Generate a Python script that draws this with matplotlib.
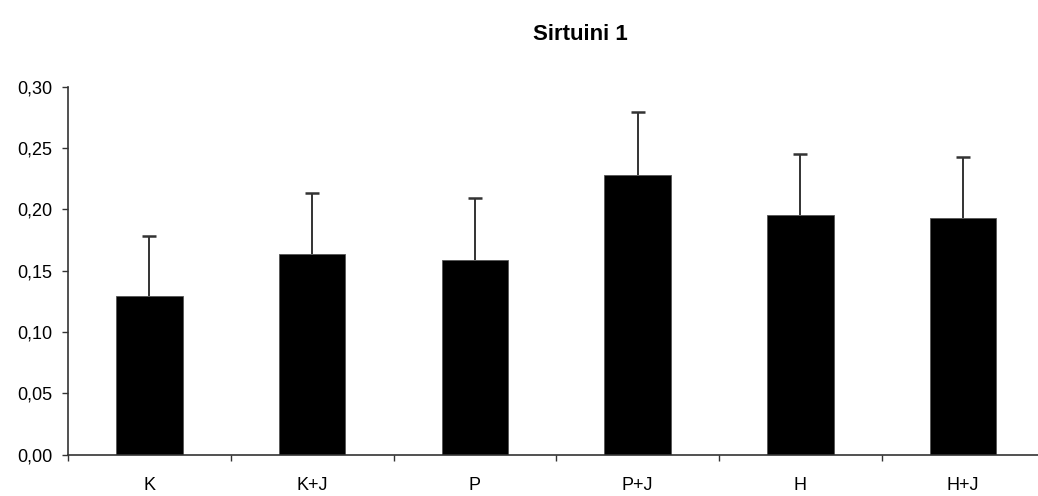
import numpy as np
import matplotlib.pyplot as plt
from matplotlib.ticker import FixedLocator, FuncFormatter

plt.rcParams['font.family'] = ['Liberation Sans', 'DejaVu Sans']

# data
groups = ['K', 'K+J', 'P', 'P+J', 'H', 'H+J']
means = [0.129, 0.164, 0.159, 0.228, 0.195, 0.193]
errors = [0.049, 0.049, 0.050, 0.051, 0.050, 0.050]
yticks = [0.00, 0.05, 0.10, 0.15, 0.20, 0.25, 0.30]

fig = plt.figure(figsize=(10.38, 4.96), dpi=100)
ax = fig.add_axes([68/1038, 41.3/496, 976.5/1038, 368/496])

x = np.arange(len(groups))
ax.bar(x, means, width=0.41, color='black', edgecolor='#555555', linewidth=0.6,
       zorder=2)
# upper-only error bars with a cap at the top
tops = np.array(means) + np.array(errors)
ax.vlines(x, means, tops, color='#333333', linewidth=1.4, zorder=3)
ax.plot(x, tops, ls='none', marker='_', markersize=10, markeredgewidth=1.8,
        color='#333333', zorder=3)

ax.set_xlim(-0.5, len(groups) - 0.5)
ax.set_ylim(0, 0.30)

# category boundaries get the tick marks, labels sit in between
ax.xaxis.set_major_locator(FixedLocator(np.arange(-0.5, len(groups), 1.0)))
ax.xaxis.set_major_formatter(FuncFormatter(lambda v, p: ''))
ax.xaxis.set_minor_locator(FixedLocator(x))
ax.set_xticklabels(groups, minor=True)
ax.tick_params(axis='x', which='major', length=4.5, width=1, color='#333333',
               direction='out')
ax.tick_params(axis='x', which='minor', length=0, pad=16, labelsize=13)

ax.set_yticks(yticks)
ax.set_yticklabels(['{:.2f}'.format(v).replace('.', ',') for v in yticks])
ax.tick_params(axis='y', length=4.5, width=1, color='#333333', pad=7,
               labelsize=13)

for s in ['top', 'right']:
    ax.spines[s].set_visible(False)
for s in ['left', 'bottom']:
    ax.spines[s].set_color('#333333')
    ax.spines[s].set_linewidth(1.2)

fig.text(580/1038, 1 - 35/496, 'Sirtuini 1', ha='center', va='center',
         fontsize=16, fontweight='bold')

fig.savefig('out.png', dpi=100)
